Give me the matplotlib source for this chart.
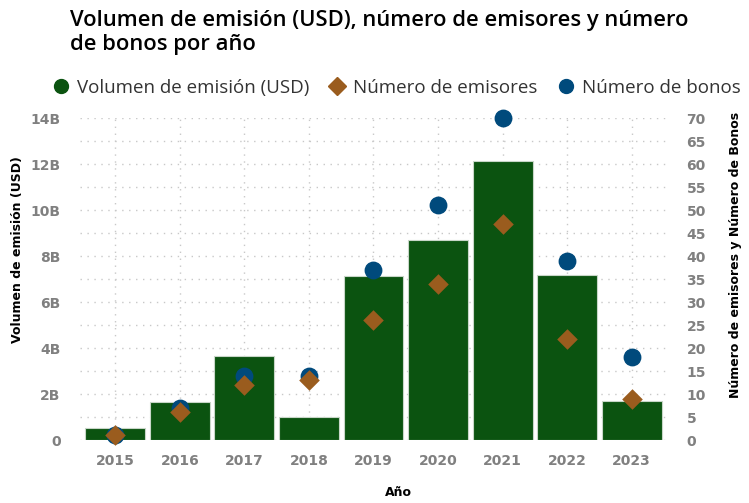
import numpy as np
import matplotlib.pyplot as plt
from matplotlib.lines import Line2D

years = ['2015', '2016', '2017', '2018', '2019', '2020', '2021', '2022', '2023']
volumen = [0.52, 1.65, 3.65, 1.0, 7.13, 8.7, 12.13, 7.17, 1.7]   # miles de millones USD
emisores = [1, 6, 12, 13, 26, 34, 47, 22, 9]
bonos = [1, 7, 14, 14, 37, 51, 70, 39, 18]

green = '#0b5310'
brown = '#9a5c1e'
blue = '#004a7c'

W, H = 749, 503
fig = plt.figure(figsize=(W / 100, H / 100), dpi=100)
ax = fig.add_axes([80 / W, 63 / H, 587 / W, 322 / H])
ax2 = ax.twinx()

x = np.arange(len(years))
ax.bar(x, volumen, width=0.93, color=green, edgecolor='#c8d6c8', linewidth=0.8, zorder=2)
ax.set_xlim(-0.55, len(years) - 0.45)
ax.set_ylim(0, 14)
ax2.set_ylim(0, 70)

ax.set_yticks(np.arange(0, 15, 2))
ax.set_yticklabels(['0'] + ['%dB' % v for v in range(2, 15, 2)])
ax.set_yticks(np.arange(0, 15, 1), minor=True)
ax2.set_yticks(np.arange(0, 71, 5))
ax.set_xticks(x)
ax.set_xticklabels(years)

ax.grid(True, which='both', axis='y', linestyle=(0, (1, 4)), color='#c8c8c8', linewidth=1, zorder=0)
ax.grid(True, which='major', axis='x', linestyle=(0, (1, 4)), color='#c8c8c8', linewidth=1, zorder=0)
ax.set_axisbelow(True)

ax2.scatter(x, bonos, s=140, color=blue, marker='o', zorder=3, clip_on=False)
ax2.scatter(x, emisores, s=110, color=brown, marker='D', zorder=4, clip_on=False, linewidths=0)

for a in (ax, ax2):
    for s in a.spines.values():
        s.set_visible(False)
    a.tick_params(length=0, which='both')
    for lab in a.get_xticklabels() + a.get_yticklabels():
        lab.set_fontweight('bold')
        lab.set_color('#808080')
        lab.set_fontsize(10)
ax.tick_params(axis='x', pad=10)
ax.tick_params(axis='y', pad=14)
ax2.tick_params(axis='y', pad=14)

# axis titles placed on the figure
lab_kw = dict(fontweight='bold', fontsize=9, ha='center', va='center')
fig.text(398 / W, 1 - 492 / H, 'Año', **lab_kw)
fig.text(18 / W, 1 - 250 / H, 'Volumen de emisión (USD)', rotation=90, **lab_kw)
fig.text(736 / W, 1 - 255 / H, 'Número de emisores y Número de Bonos', rotation=90, **lab_kw)

fig.text(70 / W, 1 - 10 / H, 'Volumen de emisión (USD), número de emisores y número\nde bonos por año',
         fontsize=15.8, family='Open Sans', fontweight='semibold', va='top', ha='left', linespacing=1.2)

handles = [
    Line2D([], [], marker='o', color=green, linestyle='none', markersize=10),
    Line2D([], [], marker='D', color=brown, linestyle='none', markersize=9),
    Line2D([], [], marker='o', color=blue, linestyle='none', markersize=10),
]
fig.legend(handles, ['Volumen de emisión (USD)', 'Número de emisores', 'Número de bonos'],
           loc='center', bbox_to_anchor=(396 / W, 1 - 88 / H), ncol=3, frameon=False,
           prop={'family': 'Open Sans', 'size': 13.5}, handletextpad=0.35, columnspacing=1.0,
           handlelength=1.0, borderpad=0, labelcolor='#333333')

fig.savefig('out.png', dpi=100)
